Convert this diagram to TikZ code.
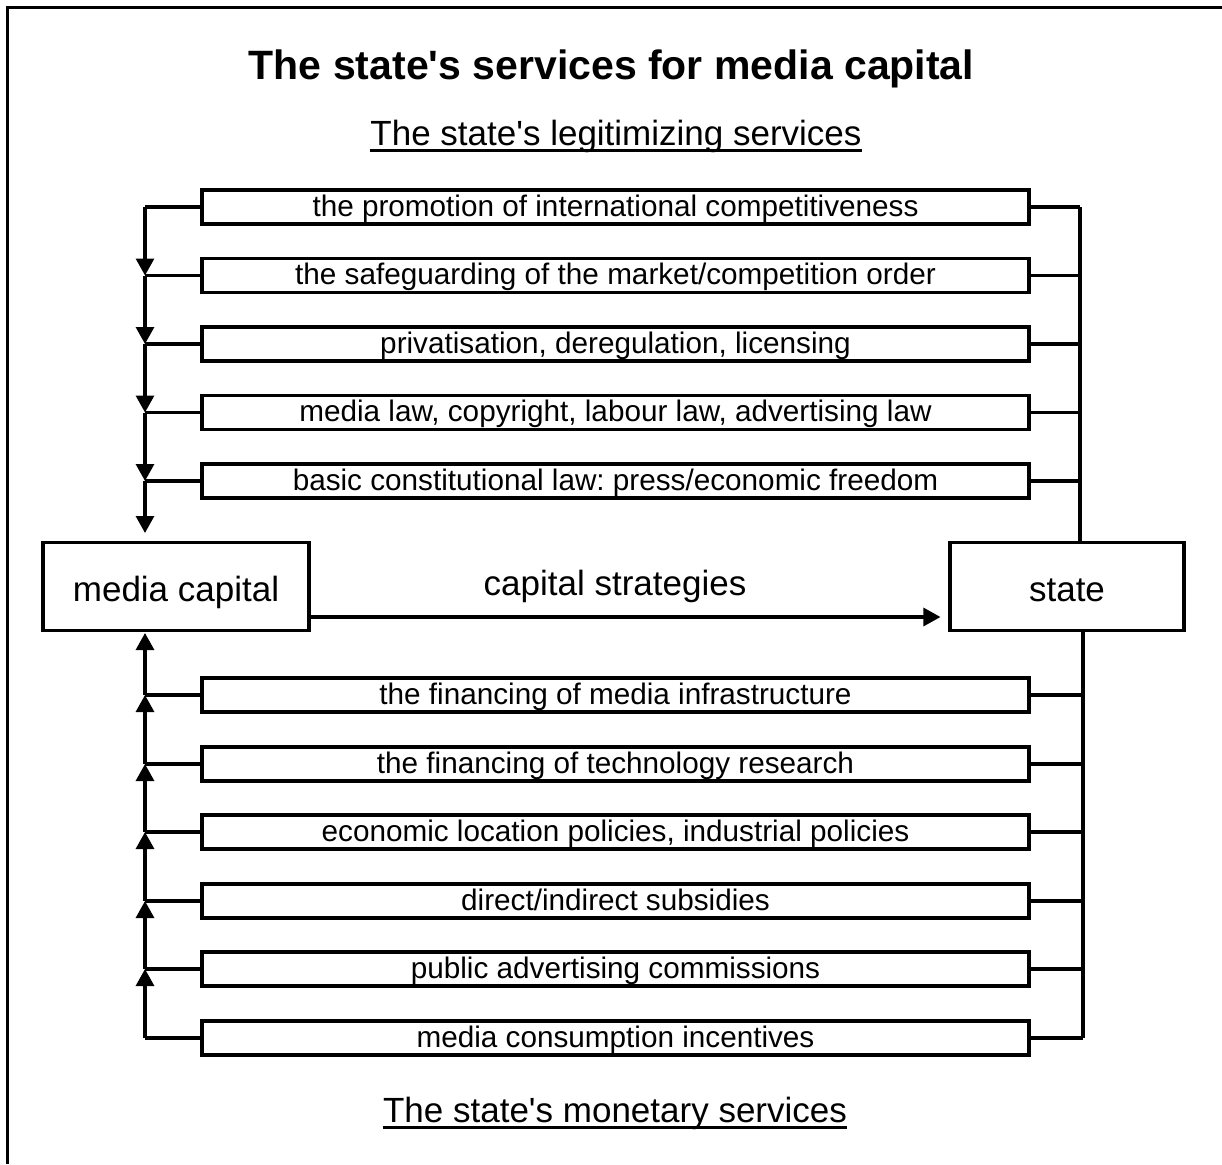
\documentclass[tikz,border=0pt]{standalone}
\usepackage{fontspec}
\setmainfont{Liberation Sans}[Ligatures=TeXOff]
\usetikzlibrary{arrows.meta}
\frenchspacing
\begin{document}
\begin{tikzpicture}[x=1pt,y=-1pt,
  svcbox/.style={draw, line width=3.1pt, minimum width=827pt, minimum height=34pt, inner sep=0pt, text height=24pt, text depth=6pt, font=\fontsize{29.7}{34}\selectfont},
  mainbox/.style={draw, line width=3.1pt, minimum height=88pt, inner sep=0pt, text height=30pt, text depth=0pt, font=\fontsize{35}{40}\selectfont},
  plain/.style={inner sep=0pt, font=\fontsize{35}{40}\selectfont},
  conn/.style={line width=3.1pt},
  arr/.style={line width=3.1pt, -{Triangle[length=17pt,width=18pt]}},
  uline/.style={line width=3pt},
]
\useasboundingbox (0,0) rectangle (1222,1164);
\draw[line width=3.8pt] (7.5,1164) -- (7.5,7.5) -- (1222,7.5);

% titles
\node[plain, anchor=base, font=\fontsize{41}{46}\selectfont\bfseries] (title) at (611.5,79) {The state's services for media capital};
\node[plain, anchor=base] (sub1) at (616,145) {The state's legitimizing services};
\draw[uline] ([yshift=-5pt]sub1.base west) -- ([yshift=-5pt]sub1.base east);
\node[plain, anchor=base] (sub2) at (615,1122) {The state's monetary services};
\draw[uline] ([yshift=-5pt]sub2.base west) -- ([yshift=-5pt]sub2.base east);

% main boxes
\node[mainbox, minimum width=266pt] (mc) at (176,586.5) {media capital};
\node[mainbox, minimum width=234pt] (st) at (1067,586.5) {state};
\node[plain] (cs) at (615,586) {capital strategies};
\draw[arr] ([yshift=-30.5pt]mc.east) -- ([xshift=-8pt,yshift=-30.5pt]st.west);

% legitimizing services
\node[svcbox] (t1) at (615.5,207) {the promotion of international competitiveness};
\node[svcbox] (t2) at (615.5,275.5) {the safeguarding of the market/competition order};
\node[svcbox] (t3) at (615.5,344) {privatisation, deregulation, licensing};
\node[svcbox] (t4) at (615.5,412.5) {media law, copyright, labour law, advertising law};
\node[svcbox] (t5) at (615.5,481) {basic constitutional law: press/economic freedom};

\foreach \i/\y in {1/207,2/275.5,3/344,4/412.5,5/481}{
  \coordinate (tl\i) at (145,\y);
  \coordinate (tr\i) at (1080,\y);
  \draw[conn] (t\i.west) -- (tl\i);
  \draw[conn] (t\i.east) -- (tr\i);
}
\coordinate (tlend) at (145,533);
\draw[arr] (tl1) -- (tl2);
\draw[arr] (tl2) -- (tl3);
\draw[arr] (tl3) -- (tl4);
\draw[arr] (tl4) -- (tl5);
\draw[arr] (tl5) -- (tlend);
\draw[conn] (tr1) -- (st.north -| tr1);

% monetary services
\node[svcbox] (b1) at (615.5,695) {the financing of media infrastructure};
\node[svcbox] (b2) at (615.5,764) {the financing of technology research};
\node[svcbox] (b3) at (615.5,832) {economic location policies, industrial policies};
\node[svcbox] (b4) at (615.5,901) {direct/indirect subsidies};
\node[svcbox] (b5) at (615.5,969) {public advertising commissions};
\node[svcbox] (b6) at (615.5,1038) {media consumption incentives};

\foreach \i/\y in {1/695,2/764,3/832,4/901,5/969,6/1038}{
  \coordinate (bl\i) at (145,\y);
  \coordinate (br\i) at (1083,\y);
  \draw[conn] (b\i.west) -- (bl\i);
  \draw[conn] (b\i.east) -- (br\i);
}
\coordinate (blend) at (145,633);
\draw[arr] (bl6) -- (bl5);
\draw[arr] (bl5) -- (bl4);
\draw[arr] (bl4) -- (bl3);
\draw[arr] (bl3) -- (bl2);
\draw[arr] (bl2) -- (bl1);
\draw[arr] (bl1) -- (blend);
\draw[conn] (st.south -| br6) -- (br6);
\end{tikzpicture}
\end{document}
